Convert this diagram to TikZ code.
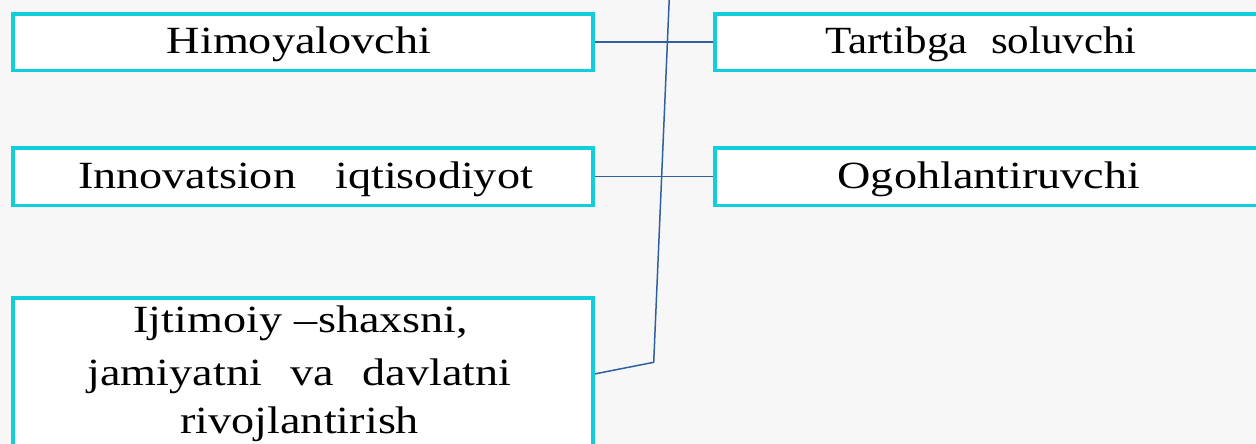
\documentclass[tikz,border=0pt]{standalone}
\usepackage{graphicx}
\usepackage{fontspec}
\setmainfont[FakeStretch=1.2]{Liberation Serif}
\definecolor{bgc}{RGB}{247,247,248}
\definecolor{boxc}{RGB}{16,206,220}
\definecolor{linec}{RGB}{48,96,160}
\pgfdeclarelayer{bgfill}
\pgfdeclarelayer{lines}
\pgfsetlayers{bgfill,lines,main}
\begin{document}
\begin{tikzpicture}[x=1pt,y=-1pt,
  box/.style={draw=boxc, line width=3.6pt, fill=white, inner sep=0pt},
  lbl/.style={anchor=base, inner sep=0pt, text=black, font=\fontsize{38.5}{46}\selectfont},
  conn/.style={draw=linec, line width=1.5pt}]
\useasboundingbox (0,0) rectangle (1256,444);
\begin{pgfonlayer}{bgfill}
\fill[bgc] (0,0) rectangle (1256,444);
\end{pgfonlayer}
% boxes
\node[box, minimum width=579.7pt, minimum height=56.8pt] (himo) at (302.85,42.2) {};
\node[box, minimum width=547.3pt, minimum height=56.8pt] (tart) at (988.35,42.2) {};
\node[box, minimum width=579.7pt, minimum height=57.5pt] (inno) at (302.85,176.55) {};
\node[box, minimum width=547.3pt, minimum height=57.5pt] (ogoh) at (988.35,176.55) {};
\node[box, minimum width=579.7pt, minimum height=152pt] (ijti) at (302.85,374) {};
% labels
\node[lbl] (himoT) at (299,53.3) {Himoyalovchi};
\node[lbl] (tartT) at (981,53.3) {\scalebox{0.93}[1]{\hbox to 335pt{Tartibga\hfill soluvchi}}};
\node[lbl] (innoT) at (305.5,188.3) {\hbox to 455pt{Innovatsion\hfill iqtisodiyot}};
\node[lbl] (ogohT) at (989,188.3) {Ogohlantiruvchi};
\node[lbl] (ijtiA) at (300.7,332.7) {\hbox to 335pt{Ijtimoiy\hfill –shaxsni,}};
\node[lbl] (ijtiB) at (299.5,385) {\hbox to 424pt{jamiyatni\hfill va\hfill davlatni}};
\node[lbl] (ijtiC) at (299.7,433.3) {rivojlantirish};
% connectors
\coordinate (bend) at (653.7,362.3);
\coordinate (top) at (669.2,0);
\begin{pgfonlayer}{lines}
\draw[conn] (himo.east) -- (tart.west);
\draw[conn] (inno.east) -- (ogoh.west);
\draw[conn] (ijti.east) -- (bend) -- (top);
\end{pgfonlayer}
\end{tikzpicture}
\end{document}
